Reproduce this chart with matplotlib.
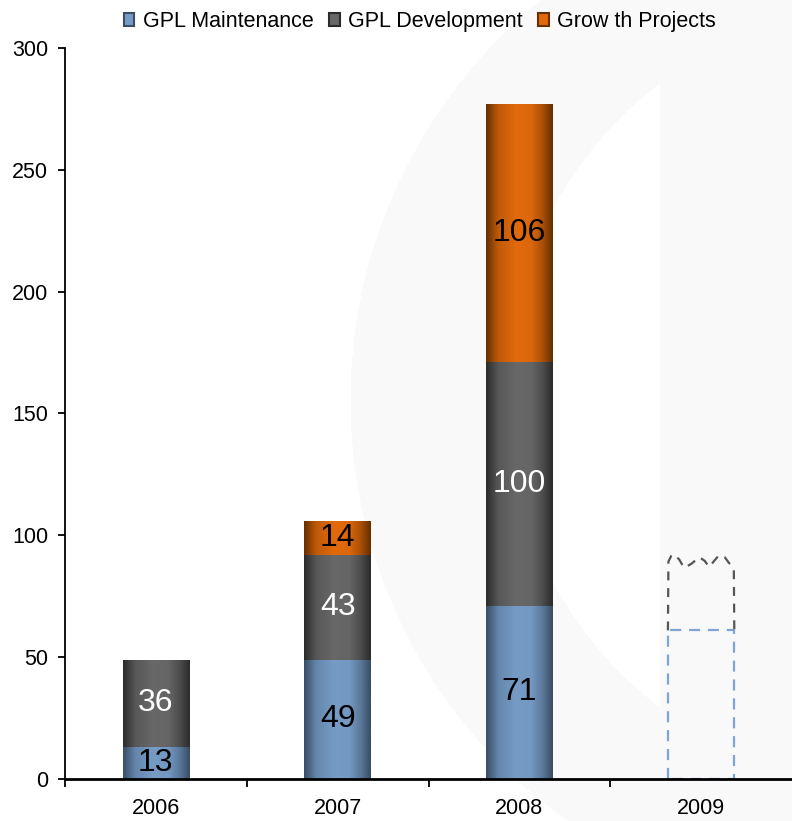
import matplotlib
matplotlib.use("Agg")
import matplotlib.pyplot as plt
import numpy as np
from matplotlib.patches import Patch

plt.rcParams['font.family'] = ['Liberation Sans', 'DejaVu Sans']

# data
years = ['2006', '2007', '2008', '2009']
maintenance = [13, 49, 71]
development = [36, 43, 100]
growth = [0, 14, 106]

# 2009 outlook (dashed outline)
outlook_maintenance = 61
outlook_top_dx = [-0.18, -0.165, -0.148, -0.12, -0.093, -0.05, -0.011, 0.02, 0.044, 0.075,
                  0.099, 0.13, 0.154, 0.172, 0.18]
outlook_top_y = [89.2, 91.5, 92.3, 90.0, 86.6, 88.5, 91.1, 89.5, 87.0, 89.8,
                 91.9, 91.0, 88.6, 87.5, 85.8]

# (edge colour, centre colour) for the shaded bars
shades = {
    'GPL Maintenance': ('#3a4e66', '#769cc6'),
    'GPL Development': ('#2c2c2c', '#686868'),
    'Grow th Projects': ('#663000', '#e26a0c'),
}

W, H = 792, 821
fig = plt.figure(figsize=(W / 100, H / 100), dpi=100)

# light watermark ring in the background
bg = fig.add_axes([0, 0, 1, 1], zorder=-5)
yy, xx = np.mgrid[0:H, 0:W]
outer = (xx - 866) ** 2 + (yy - 400) ** 2 < 516 ** 2
inner = ((xx - 897) ** 2 + (yy - 395) ** 2 < 392 ** 2) & (xx < 660)
shade = np.ones((H, W))
shade[(outer | (xx >= 660)) & ~inner] = 0.978
bg.imshow(np.dstack([shade] * 3), aspect='auto', extent=(0, W, H, 0))
bg.set_xlim(0, W)
bg.set_ylim(H, 0)
bg.axis('off')

ax = fig.add_axes([65 / W, 1 - 779 / H, 1 - 65 / W, (779 - 48) / H])
ax.patch.set_alpha(0)

x = np.arange(3)
width = 0.365

# horizontal shading profile across a bar
prof_pos = [0.0, 0.18, 0.45, 0.68, 0.85, 1.0]
prof_val = [0.0, 0.72, 1.0, 0.95, 0.55, 0.0]
t = np.interp(np.linspace(0, 1, 64), prof_pos, prof_val)


def shaded_bars(bars, name):
    dark, light = [np.array(matplotlib.colors.to_rgb(c)) for c in shades[name]]
    grad = dark[None, :] * (1 - t[:, None]) + light[None, :] * t[:, None]
    grad = grad[None, :, :]
    for b in bars:
        if b.get_height() <= 0:
            continue
        x0, y0 = b.get_x(), b.get_y()
        im = ax.imshow(grad, extent=(x0, x0 + b.get_width(), y0, y0 + b.get_height()),
                       aspect='auto', interpolation='bilinear', zorder=2)
        im.set_clip_path(b)


bottom2 = np.array(maintenance) + np.array(development)
b1 = ax.bar(x, maintenance, width, facecolor='none', edgecolor='none')
b2 = ax.bar(x, development, width, bottom=maintenance, facecolor='none', edgecolor='none')
b3 = ax.bar(x, growth, width, bottom=bottom2, facecolor='none', edgecolor='none')
shaded_bars(b1, 'GPL Maintenance')
shaded_bars(b2, 'GPL Development')
shaded_bars(b3, 'Grow th Projects')

# value labels
lab = dict(ha='center', va='center', fontsize=23, zorder=4)
for i in range(3):
    ax.text(x[i], maintenance[i] / 2, str(maintenance[i]), color='black', **lab)
    ax.text(x[i], maintenance[i] + development[i] / 2, str(development[i]), color='white', **lab)
    if growth[i]:
        ax.text(x[i], bottom2[i] + growth[i] / 2, str(growth[i]), color='black', **lab)

# 2009 outlook drawn dashed
c = 3
ax.plot([c - width / 2, c - width / 2, c + width / 2, c + width / 2, c - width / 2],
        [0, outlook_maintenance, outlook_maintenance, 0, 0],
        color='#7ea5d3', lw=1.6, ls=(0, (5, 3.5)), zorder=3)
ox = [c - width / 2] + [c + d for d in outlook_top_dx] + [c + width / 2]
oy = [outlook_maintenance] + outlook_top_y + [outlook_maintenance]
ax.plot(ox, oy, color='#555555', lw=1.6, ls=(0, (4, 3.5)), zorder=3)

ax.set_xlim(-0.5, 3.5)
ax.set_ylim(0, 300)
ax.set_yticks(range(0, 301, 50))
ax.set_xticks([-0.5, 0.5, 1.5, 2.5])
ax.set_xticklabels([])
ax.set_xticks(range(4), minor=True)
ax.set_xticklabels(years, minor=True)
ax.tick_params(axis='x', which='major', length=6, width=1.3, direction='out')
ax.tick_params(axis='x', which='minor', length=0, pad=14, labelsize=15.5)
ax.tick_params(axis='y', length=5, width=1.3, pad=7, labelsize=15.5)
for s in ['top', 'right']:
    ax.spines[s].set_visible(False)
ax.spines['left'].set_linewidth(1.3)
ax.spines['bottom'].set_linewidth(2)
ax.spines['bottom'].set_zorder(5)

handles = [Patch(facecolor=shades[k][1], edgecolor=shades[k][0], lw=1.5, label=k) for k in shades]
fig.legend(handles=handles, loc='upper center', bbox_to_anchor=(0.53, 1.01), ncol=3,
           frameon=False, fontsize=15.5, handlelength=0.5, handleheight=0.5,
           handletextpad=0.4, columnspacing=0.7)

fig.savefig('out.png', dpi=100)
